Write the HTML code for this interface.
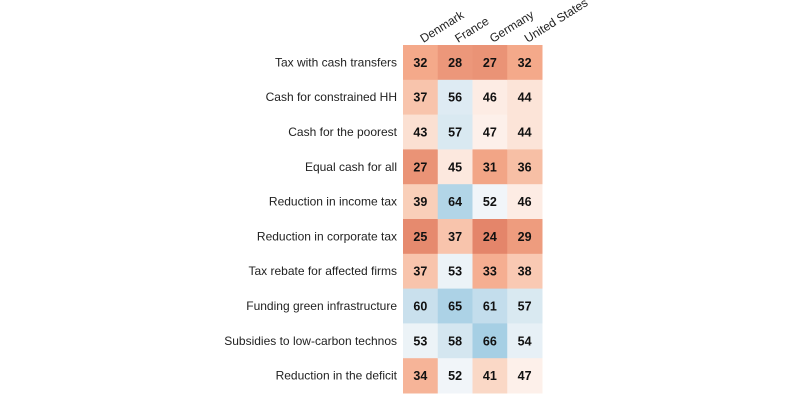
<!DOCTYPE html>
<html><head><meta charset="utf-8"><style>
body{margin:0;background:#fff;}
svg{display:block;font-family:"Liberation Sans",Arial,sans-serif;}
</style></head><body>
<svg id="c" width="800" height="400"></svg>
<script>
const countries=["Denmark","France","Germany","United States"];
const policies=["Tax with cash transfers","Cash for constrained HH","Cash for the poorest","Equal cash for all","Reduction in income tax","Reduction in corporate tax","Tax rebate for affected firms","Funding green infrastructure","Subsidies to low-carbon technos","Reduction in the deficit"];
const denmark=[32,37,43,27,39,25,37,60,53,34];
const france=[28,56,57,45,64,37,53,65,58,52];
const germany=[27,46,47,31,52,24,33,61,66,41];
const unitedStates=[32,44,44,36,46,29,38,57,54,47];
const series=[denmark,france,germany,unitedStates];
const NS="http://www.w3.org/2000/svg";
const svg=document.getElementById('c');
const x0=403,x1=542,y0=45,y1=393;
const cw=(x1-x0)/countries.length, rh=(y1-y0)/policies.length;
const xs=i=>x0+i*cw, ys=j=>y0+j*rh;
const stops=[[20,[214,96,77]],[24,[228,133,106]],[32,[244,169,138]],[40,[250,212,192]],[47,[253,240,234]],[51,[246,248,250]],[58,[212,230,240]],[66,[166,207,228]],[72,[120,178,212]]];
function col(v){
  if(v<=stops[0][0])return 'rgb('+stops[0][1]+')';
  for(let k=1;k<stops.length;k++){
    if(v<=stops[k][0]){const a=stops[k-1],b=stops[k],t=(v-a[0])/(b[0]-a[0]);
      return 'rgb('+a[1].map((c,i)=>Math.round(c+(b[1][i]-c)*t)).join(',')+')';}
  }
  return 'rgb('+stops[stops.length-1][1]+')';
}
function mk(t,a){const e=document.createElementNS(NS,t);for(const k in a)e.setAttribute(k,a[k]);return e;}
series.forEach((vals,i)=>{
  vals.forEach((v,j)=>{
    const r=mk('rect',{x:xs(i),y:ys(j),width:cw+0.5,height:rh+0.5,fill:col(v)});
    
    
    svg.appendChild(r);
    const t=mk('text',{x:xs(i)+cw/2,y:ys(j)+rh/2+4.5,'text-anchor':'middle','font-size':'12.5','font-weight':'bold',fill:'#111'});
    t.textContent=v;
    
    
    svg.appendChild(t);
  });
});
policies.forEach((p,j)=>{
  const t=mk('text',{x:397,y:ys(j)+rh/2+4,'text-anchor':'end','font-size':'12',fill:'#222'});
  t.textContent=p;
  
  
  svg.appendChild(t);
});
countries.forEach((c,i)=>{
  const cx=xs(i)+cw/2+3, cy=43;
  const t=mk('text',{x:cx,y:cy,'font-size':'12',fill:'#222',transform:'rotate(-32 '+cx+' '+cy+')'});
  t.textContent=c;
  
  
  svg.appendChild(t);
});
</script>
</body></html>
